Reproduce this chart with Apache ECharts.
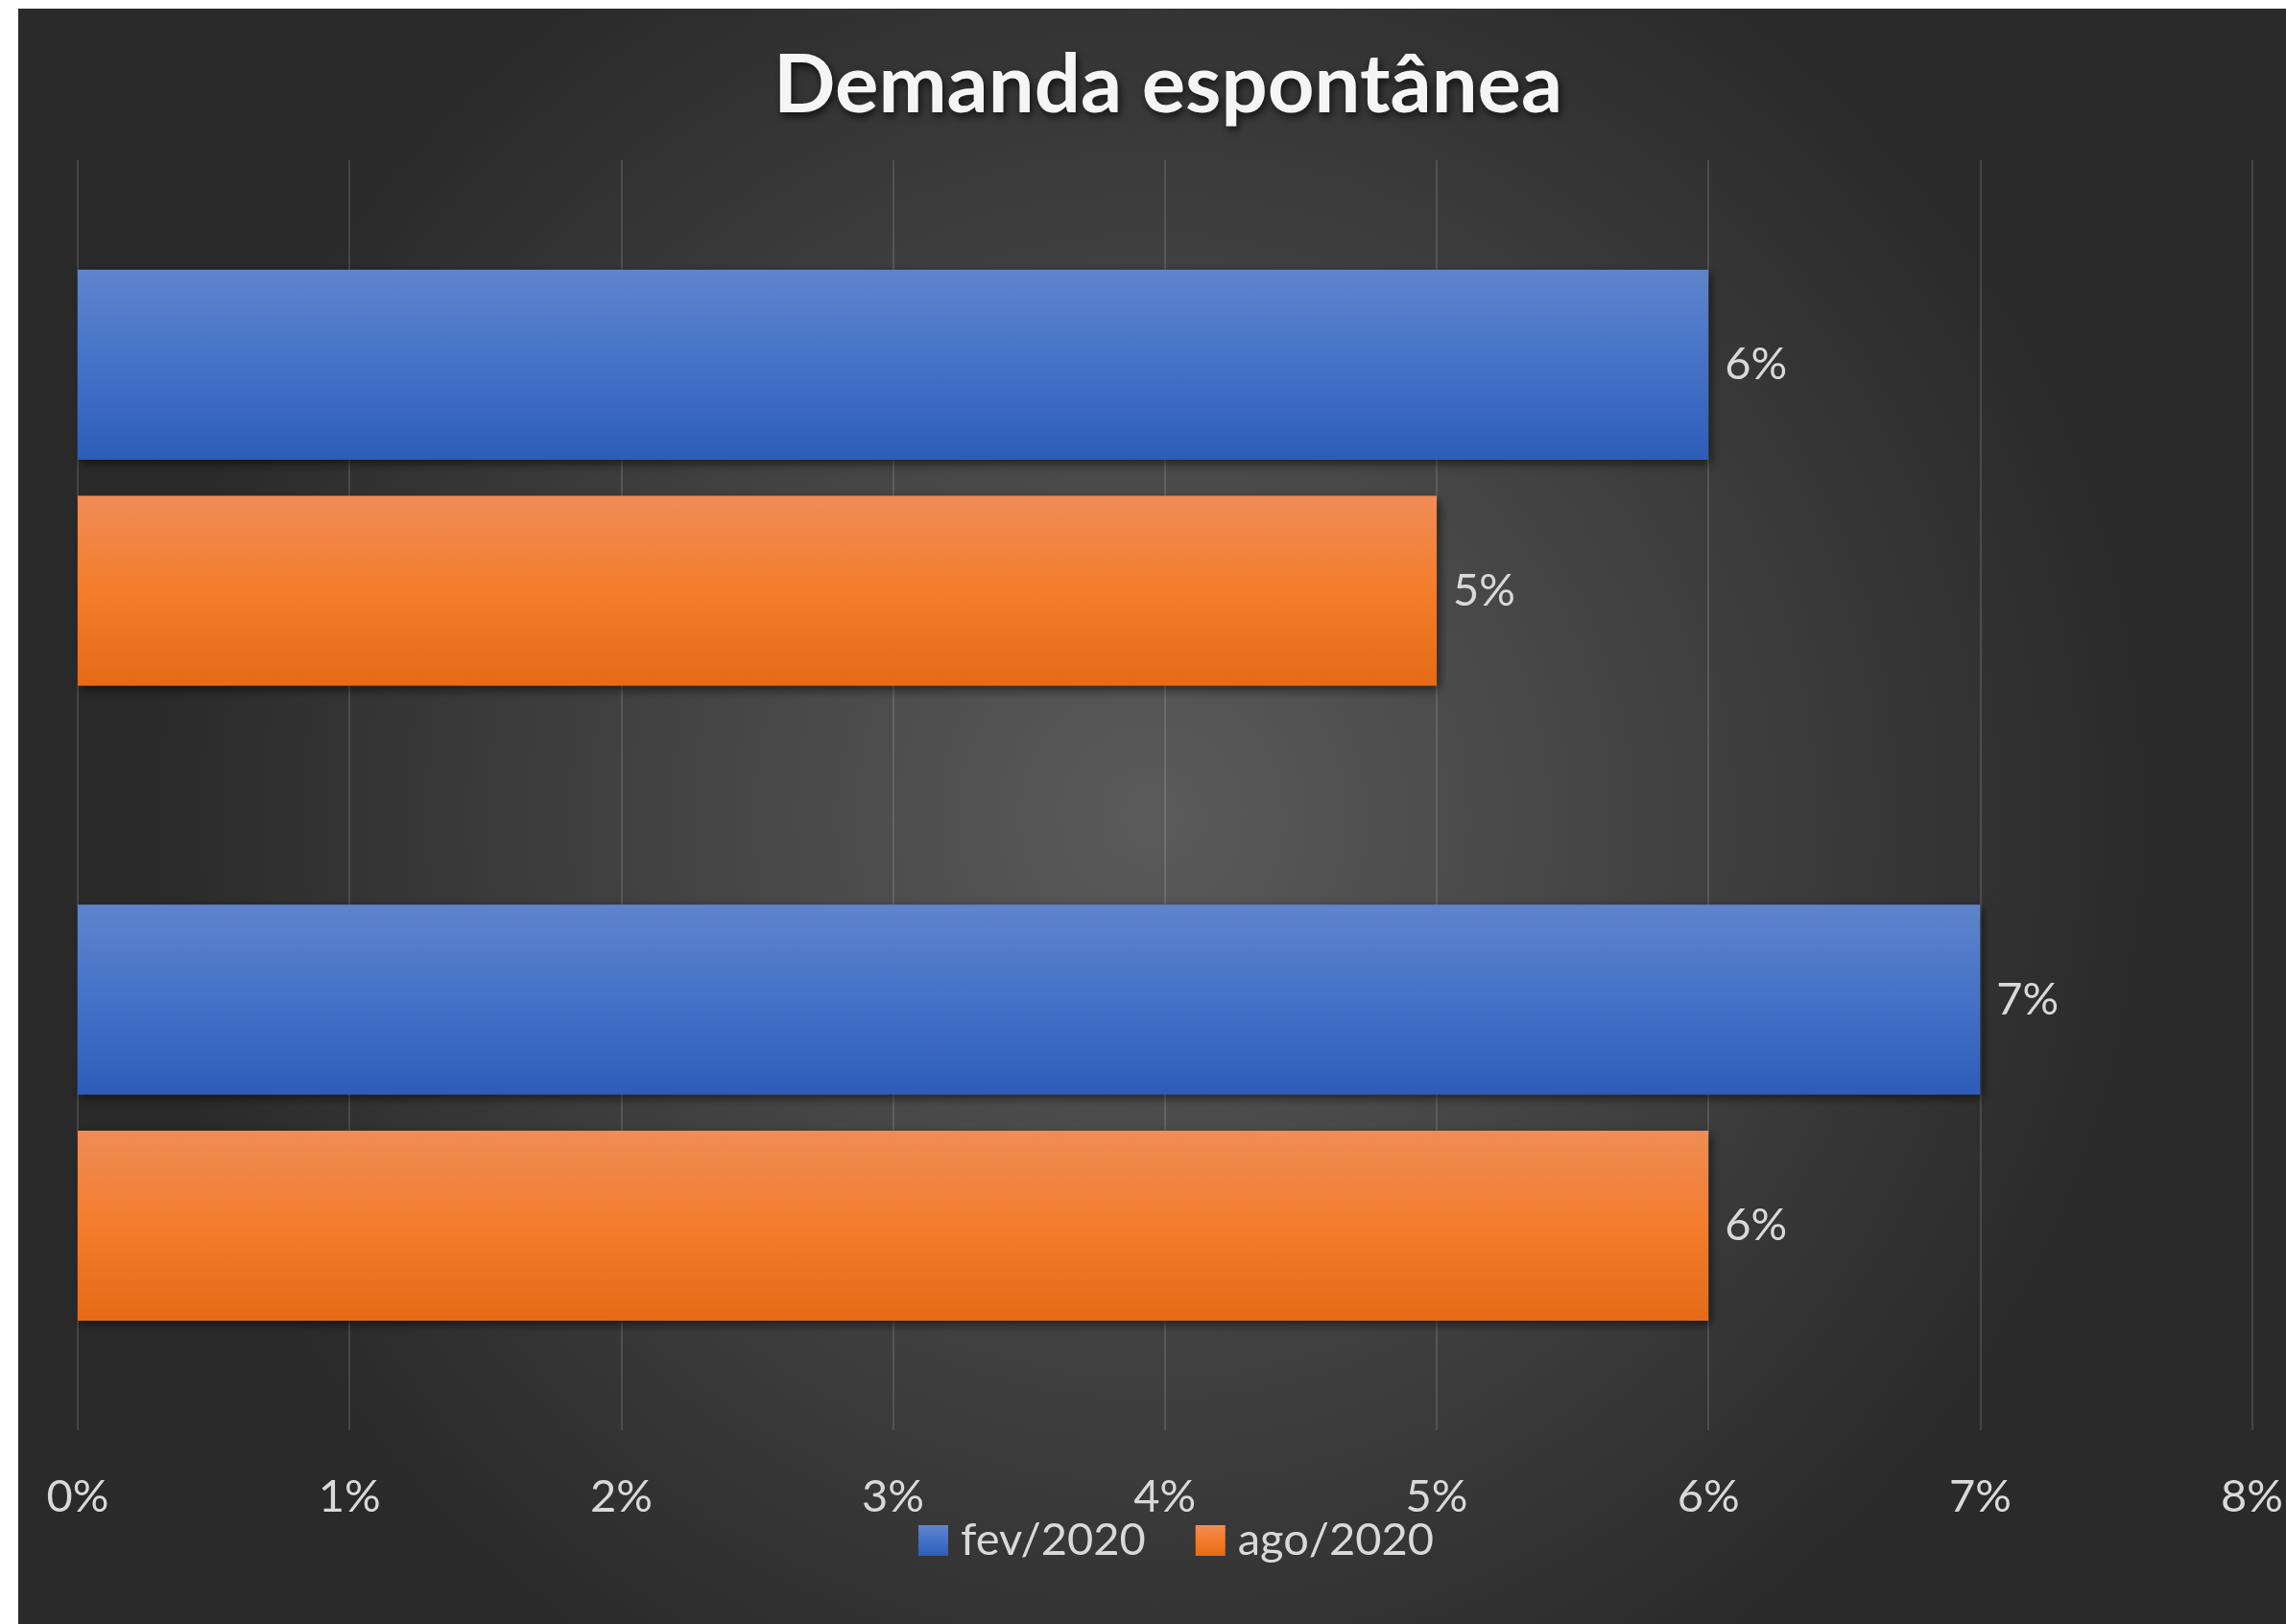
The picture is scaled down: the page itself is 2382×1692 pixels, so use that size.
<!DOCTYPE html>
<html>
<head>
<meta charset="utf-8">
<script src="https://cdn.jsdelivr.net/npm/echarts@6/dist/echarts.min.js"></script>
<style>
  html, body { margin: 0; padding: 0; background: #ffffff; }
  #chart { position: absolute; left: 19px; top: 9px; width: 2363px; height: 1683px; }
</style>
</head>
<body>
<div id="chart"></div>
<script>
// Categories listed top to bottom
const categories = ['Grupo A', 'Grupo B'];
const seriesNames = ['fev/2020', 'ago/2020'];
const fev2020 = [6, 7];
const ago2020 = [5, 6];
const xTicks = [0, 1, 2, 3, 4, 5, 6, 7, 8];

const FONT = 'Lato';

const blueFill = new echarts.graphic.LinearGradient(0, 0, 0, 1, [
  { offset: 0, color: '#5f84cc' },
  { offset: 0.5, color: '#4472c8' },
  { offset: 1, color: '#2d5db9' }
]);
const orangeFill = new echarts.graphic.LinearGradient(0, 0, 0, 1, [
  { offset: 0, color: '#f08c56' },
  { offset: 0.5, color: '#f37d2c' },
  { offset: 1, color: '#e56b16' }
]);

const chart = echarts.init(document.getElementById('chart'));

const barShadow = {
  shadowColor: 'rgba(0,0,0,0.55)',
  shadowBlur: 10,
  shadowOffsetX: 3,
  shadowOffsetY: 4
};

function barSeries(name, data, fill) {
  return {
    name: name,
    type: 'bar',
    data: data,
    barWidth: 198,
    barGap: '19%',
    itemStyle: Object.assign({ color: fill }, barShadow),
    label: {
      show: true,
      position: 'right',
      distance: 17,
      formatter: p => p.value + '%',
      color: '#d9d9d9',
      fontFamily: FONT,
      fontSize: 47
    }
  };
}

chart.setOption({
  backgroundColor: new echarts.graphic.RadialGradient(0.5, 0.5, 0.62, [
    { offset: 0, color: '#5b5b5b' },
    { offset: 1, color: '#2a2a2a' }
  ]),
  animation: false,
  title: {
    text: 'Demanda espontânea',
    left: 1193,
    textAlign: 'center',
    top: 33,
    textStyle: {
      color: '#f5f5f5',
      fontFamily: FONT,
      fontWeight: 'bold',
      fontSize: 85,
      textShadowColor: 'rgba(0,0,0,0.7)',
      textShadowBlur: 8,
      textShadowOffsetX: 2,
      textShadowOffsetY: 4
    }
  },
  legend: {
    data: seriesNames,
    left: 933,
    top: 1567,
    itemWidth: 31,
    itemHeight: 32,
    itemGap: 52,
    icon: 'rect',
    textStyle: {
      color: '#d9d9d9',
      fontFamily: FONT,
      fontSize: 47,
      lineHeight: 48,
      padding: [0, 0, 0, 8]
    }
  },
  grid: {
    left: 62,
    right: 35,
    top: 158,
    bottom: 202,
    containLabel: false
  },
  xAxis: {
    type: 'value',
    min: xTicks[0],
    max: xTicks[xTicks.length - 1],
    interval: 1,
    axisLine: { show: false },
    axisTick: { show: false },
    splitLine: { show: true, lineStyle: { color: 'rgba(255,255,255,0.13)', width: 2 } },
    axisLabel: {
      formatter: v => v + '%',
      color: '#d9d9d9',
      fontFamily: FONT,
      fontSize: 47,
      margin: 46
    }
  },
  yAxis: {
    type: 'category',
    data: categories,
    inverse: true,
    axisLine: { show: false },
    axisTick: { show: false },
    axisLabel: { show: false },
    splitLine: { show: false }
  },
  series: [
    barSeries(seriesNames[0], fev2020, blueFill),
    barSeries(seriesNames[1], ago2020, orangeFill)
  ]
});
</script>
</body>
</html>
